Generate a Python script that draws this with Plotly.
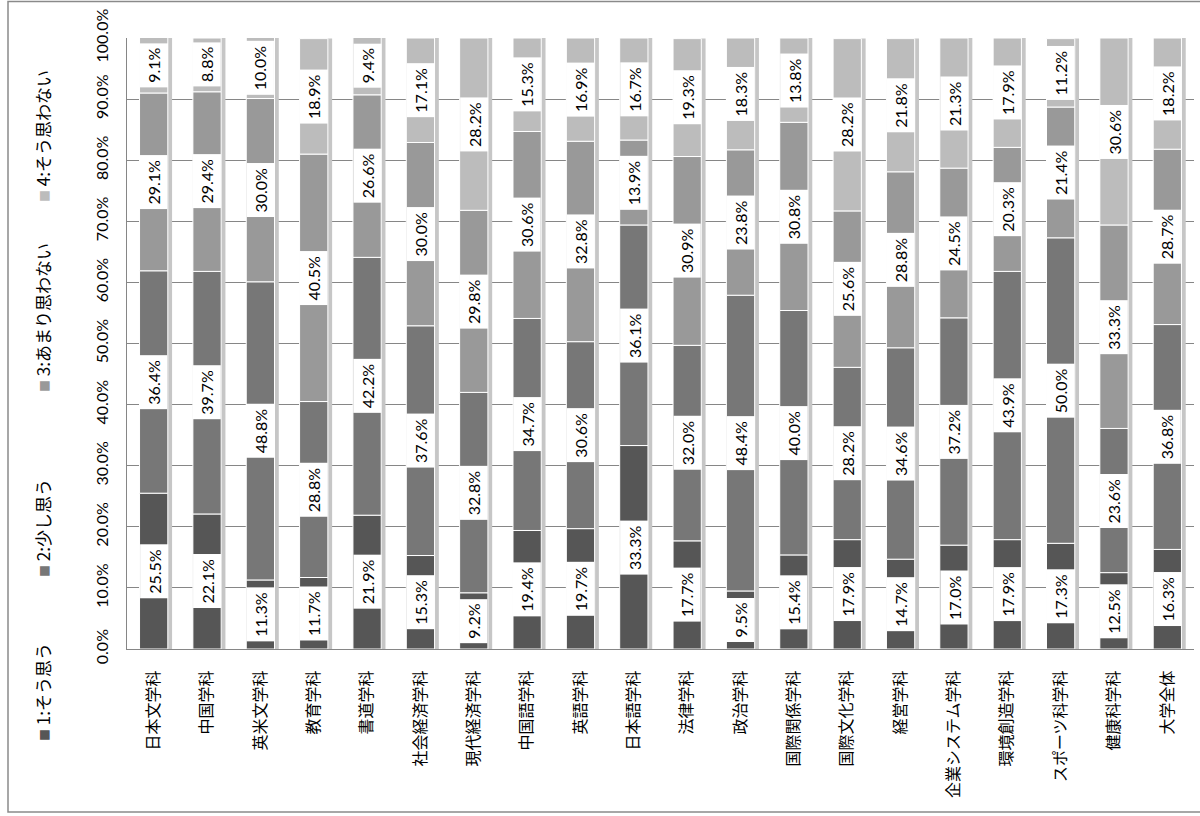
import numpy as np
import plotly.graph_objects as go

categories = ["日本文学科", "中国学科", "英米文学科", "教育学科", "書道学科", "社会経済学科",
              "現代経済学科", "中国語学科", "英語学科", "日本語学科", "法律学科", "政治学科",
              "国際関係学科", "国際文化学科", "経営学科", "企業システム学科", "環境創造学科",
              "スポーツ科学科", "健康科学科", "大学全体"]

series_names = ["1:そう思う", "2:少し思う", "3:あまり思わない", "4:そう思わない"]

s1 = [25.5, 22.1, 11.3, 11.7, 21.9, 15.3, 9.2, 19.4, 19.7, 33.3,
      17.7, 9.5, 15.4, 17.9, 14.7, 17.0, 17.9, 17.3, 12.5, 16.3]
s2 = [36.4, 39.7, 48.8, 28.8, 42.2, 37.6, 32.8, 34.7, 30.6, 36.1,
      32.0, 48.4, 40.0, 28.2, 34.6, 37.2, 43.9, 50.0, 23.6, 36.8]
s3 = [29.1, 29.4, 30.0, 40.5, 26.6, 30.0, 29.8, 30.6, 32.8, 13.9,
      30.9, 23.8, 30.8, 25.6, 28.8, 24.5, 20.3, 21.4, 33.3, 28.7]
s4 = [9.1, 8.8, 10.0, 18.9, 9.4, 17.1, 28.2, 15.3, 16.9, 16.7,
      19.3, 18.3, 13.8, 28.2, 21.8, 21.3, 17.9, 11.2, 30.6, 18.2]

y_ticks = [0, 10, 20, 30, 40, 50, 60, 70, 80, 90, 100]
y_ticklabels = [f"{v:.1f}%" for v in y_ticks]

colors = ["#565656", "#777777", "#999999", "#bcbcbc"]
font_fam = "Lato, Noto Sans CJK JP, sans-serif"
cjk_fam = "Noto Sans CJK JP, sans-serif"

series = [np.array(s1), np.array(s2), np.array(s3), np.array(s4)]
bases = np.cumsum([np.zeros(len(categories))] + series[:-1], axis=0)
totals = np.sum(series, axis=0)

L, R, T, B = 127, 6, 38, 167
W, H = 1200, 816
pw, ph = W - L - R, H - T - B

fig = go.Figure()

bw = 0.53
# shadow
fig.add_trace(go.Bar(x=categories, y=totals, base=0, width=bw, offset=-bw / 2 + 0.08,
                     marker=dict(color="#c6c6c6", line=dict(width=0)),
                     showlegend=False, hoverinfo="skip"))

for name, vals, base, col in zip(series_names, series, bases, colors):
    fig.add_trace(go.Bar(x=categories, y=vals, base=base, name=name, width=bw,
                         offset=-bw / 2,
                         marker=dict(color=col, line=dict(color="white", width=1)),
                         showlegend=False))

annotations = []
for vals, base in zip(series, bases):
    for c, v, b in zip(categories, vals, base):
        annotations.append(dict(x=c, y=b + v / 2, xref="x", yref="y", text=f"{v:.1f}%",
                                showarrow=False, textangle=-90, bgcolor="white",
                                borderpad=4, font=dict(size=16, color="black", family=font_fam)))

# legend (rotated)
leg_y_px = [692, 528, 318, 136]
for name, col, py in zip(series_names, colors, leg_y_px):
    annotations.append(dict(
        x=(42 - L) / pw, y=(H - B - py) / ph, xref="paper", yref="paper",
        text=f'<span style="color:{col};font-size:12px">■</span> {name}',
        showarrow=False, textangle=-90, xanchor="center", yanchor="middle",
        font=dict(size=17, color="black", family=cjk_fam)))

fig.update_layout(
    width=W, height=H,
    margin=dict(l=L, r=R, t=T, b=B),
    barmode="overlay",
    plot_bgcolor="white", paper_bgcolor="white",
    font=dict(family=font_fam, size=16, color="black"),
    annotations=annotations,
    shapes=[dict(type="rect", xref="paper", yref="paper",
                 x0=(8 - L) / pw, x1=(1215 - L) / pw,
                 y0=(H - B - 812) / ph, y1=(H - B - 1.5) / ph,
                 line=dict(color="#8a8a8a", width=1.5), layer="below")],
    xaxis=dict(type="category", tickangle=-90, showgrid=False, showline=True,
               linecolor="#868686", linewidth=1, ticks="", ticklabelstandoff=14,
               tickfont=dict(size=16, family=cjk_fam),
               range=[-0.5, len(categories) - 0.5]),
    yaxis=dict(range=[0, 100], tickvals=y_ticks, ticktext=y_ticklabels,
               tickangle=-90, showgrid=True, gridcolor="#868686",
               gridwidth=1, showline=True, linecolor="#868686", linewidth=1,
               zeroline=False, ticks="", ticklabelstandoff=12,
               tickfont=dict(size=16, family=font_fam)),
)

fig.write_html("out.html", config={"displayModeBar": False},
               post_script="document.body.style.margin='0';document.body.style.overflow='hidden';")
